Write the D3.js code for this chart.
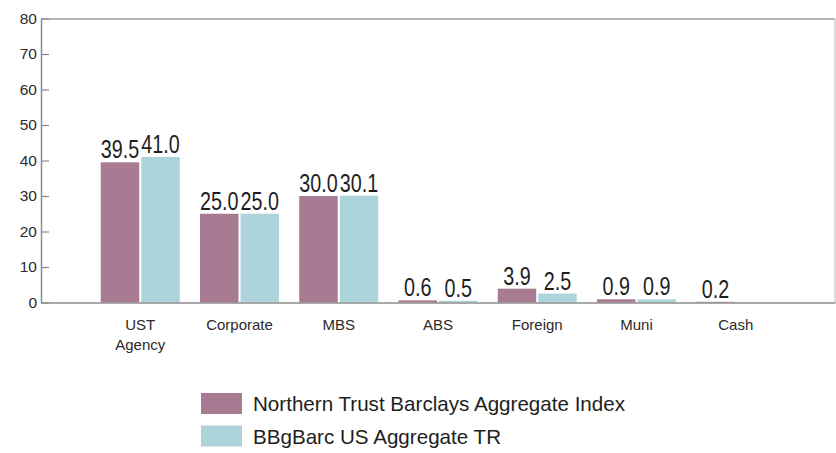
<!DOCTYPE html>
<html>
<head>
<meta charset="utf-8">
<script src="https://cdn.jsdelivr.net/npm/d3@7"></script>
<style>
  html, body { margin: 0; padding: 0; background: #ffffff; }
  svg { display: block; font-family: "Liberation Sans", Arial, sans-serif; }
</style>
</head>
<body>
<svg id="chart" width="836" height="453"></svg>
<script>
// Sector weights (%) for the fund index versus the benchmark
const categories = ["UST Agency", "Corporate", "MBS", "ABS", "Foreign", "Muni", "Cash"];
const seriesNames = ["Northern Trust Barclays Aggregate Index", "BBgBarc US Aggregate TR"];
const northernTrust = [39.5, 25.0, 30.0, 0.6, 3.9, 0.9, 0.2];
const bbgBarc = [41.0, 25.0, 30.1, 0.5, 2.5, 0.9, null];
const yTicks = [0, 10, 20, 30, 40, 50, 60, 70, 80];
const colors = ["#a87b92", "#acd4da"];

const seriesValues = [northernTrust, bbgBarc];

const svg = d3.select("#chart");
const plotLeft = 41, plotRight = 835, plotTop = 18.5, plotBottom = 302.5;

const x = d3.scaleBand()
  .domain(categories)
  .range([plotLeft, plotRight])
  .paddingInner(0)
  .paddingOuter(0.5);

const pairWidth = 79;
const x1 = d3.scaleBand()
  .domain(seriesNames)
  .range([(x.bandwidth() - pairWidth) / 2, (x.bandwidth() + pairWidth) / 2])
  .paddingInner(0.05);

const y = d3.scaleLinear().domain([0, 80]).range([plotBottom, plotTop]);

// Plot frame: top and right edges
svg.append("line")
  .attr("x1", plotLeft).attr("x2", plotRight)
  .attr("y1", plotTop + 0.5).attr("y2", plotTop + 0.5)
  .attr("stroke", "#9e9e9e").attr("stroke-width", 1.5);
svg.append("line")
  .attr("x1", plotRight).attr("x2", plotRight)
  .attr("y1", plotTop).attr("y2", plotBottom)
  .attr("stroke", "#cfcfcf").attr("stroke-width", 1.5);

// Bars
const rows = categories.map((c, i) => ({
  category: c,
  values: seriesNames.map((s, j) => ({ series: s, idx: j, value: seriesValues[j][i] }))
}));

const groups = svg.append("g").selectAll("g")
  .data(rows)
  .join("g")
  .attr("transform", d => `translate(${x(d.category)},0)`);

groups.selectAll("rect")
  .data(d => d.values.filter(v => v.value != null))
  .join("rect")
  .attr("x", d => x1(d.series))
  .attr("width", x1.bandwidth())
  .attr("y", d => y(d.value))
  .attr("height", d => y(0) - y(d.value))
  .attr("fill", d => colors[d.idx]);

// Value labels above each bar
groups.selectAll("text.value")
  .data(d => d.values.filter(v => v.value != null))
  .join("text")
  .attr("class", "value")
  .attr("transform", d => `translate(${x1(d.series) + x1.bandwidth() / 2},${y(d.value) - 4}) scale(0.76,1)`)
  .attr("text-anchor", "middle")
  .attr("font-size", 26)
  .attr("fill", "#1e1e1e")
  .text(d => d.value.toFixed(1));

// Y axis with inward ticks
const yAxis = svg.append("g")
  .attr("transform", `translate(${plotLeft},0)`)
  .call(d3.axisLeft(y).tickValues(yTicks).tickSizeInner(-8).tickSizeOuter(0).tickPadding(4));
yAxis.select(".domain").attr("stroke", "#8c8c8c").attr("stroke-width", 1.5);
yAxis.selectAll(".tick line").attr("stroke", "#8c8c8c").attr("stroke-width", 1.2);
yAxis.selectAll(".tick text")
  .attr("font-size", 15.5)
  .attr("font-family", "Liberation Sans, Arial, sans-serif")
  .attr("fill", "#2a2a2a");

// X axis with category names (split onto lines)
const xAxis = svg.append("g")
  .attr("transform", `translate(0,${plotBottom})`)
  .call(d3.axisBottom(x).tickSize(0).tickPadding(17));
xAxis.select(".domain").attr("stroke", "#8c8c8c").attr("stroke-width", 1.5);
xAxis.selectAll(".tick text")
  .attr("font-size", 15)
  .attr("font-family", "Liberation Sans, Arial, sans-serif")
  .attr("fill", "#2a2a2a")
  .each(function(d) {
    const t = d3.select(this);
    const words = d.split(" ");
    t.text(null);
    words.forEach((w, i) => {
      t.append("tspan")
        .attr("x", 0)
        .attr("dy", i === 0 ? "0.71em" : "1.3em")
        .text(w);
    });
  });

// Legend
const legend = svg.append("g").attr("transform", "translate(201,393)");
const items = legend.selectAll("g")
  .data(seriesNames)
  .join("g")
  .attr("transform", (d, i) => `translate(0,${i * 32.5})`);
items.append("rect")
  .attr("width", 41).attr("height", 21)
  .attr("fill", (d, i) => colors[i]);
items.append("text")
  .attr("x", 52).attr("y", 18)
  .attr("font-size", 20.6)
  .attr("fill", "#1e1e1e")
  .text(d => d);
</script>
</body>
</html>
